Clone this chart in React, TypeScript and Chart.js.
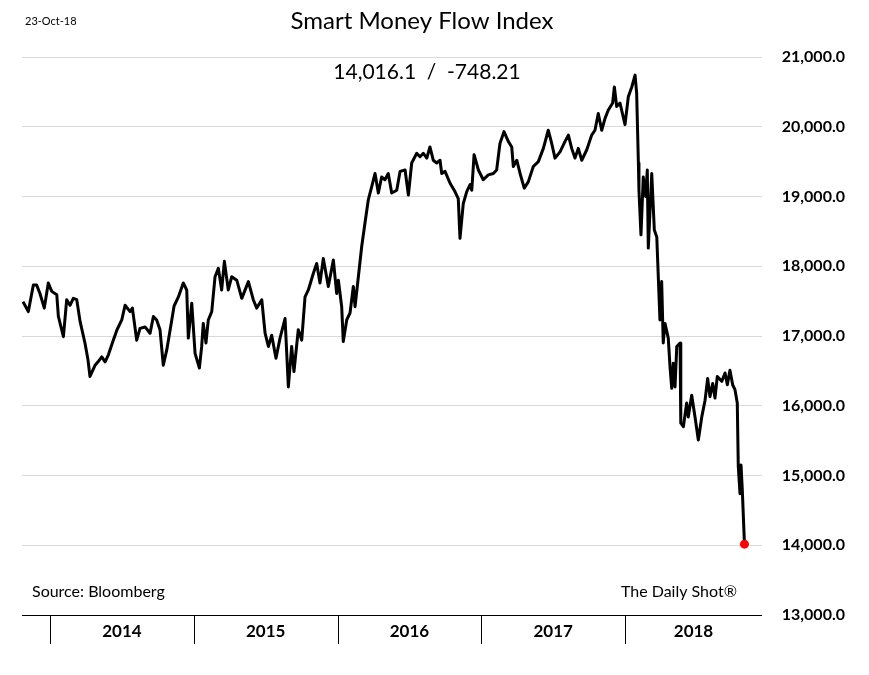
import React, { useEffect, useRef } from "react";
import { Chart, registerables } from "chart.js";

Chart.register(...registerables);

// Dates as decimal years, values of the Smart Money Flow Index
const dates: number[] = [
  2013.812, 2013.849, 2013.884, 2013.907, 2013.93, 2013.96, 2013.988, 2014.012, 2014.047, 2014.058,
  2014.093, 2014.116, 2014.139, 2014.162, 2014.186, 2014.209, 2014.243, 2014.264, 2014.278, 2014.313,
  2014.334, 2014.36, 2014.383, 2014.406, 2014.44, 2014.466, 2014.499, 2014.522, 2014.557, 2014.573,
  2014.603, 2014.626, 2014.661, 2014.696, 2014.719, 2014.742, 2014.765, 2014.788, 2014.812, 2014.847,
  2014.863, 2014.893, 2014.927, 2014.951, 2014.962, 2014.986, 2015.009, 2015.039, 2015.055, 2015.066,
  2015.085, 2015.101, 2015.125, 2015.148, 2015.171, 2015.194, 2015.213, 2015.24, 2015.264, 2015.299,
  2015.334, 2015.38, 2015.414, 2015.438, 2015.473, 2015.496, 2015.519, 2015.542, 2015.572, 2015.6,
  2015.635, 2015.658, 2015.681, 2015.697, 2015.727, 2015.751, 2015.774, 2015.797, 2015.832, 2015.855,
  2015.878, 2015.901, 2015.936, 2015.971, 2015.994,
  2016.006, 2016.029, 2016.04, 2016.064, 2016.087, 2016.11, 2016.122, 2016.145, 2016.168, 2016.191,
  2016.214, 2016.238, 2016.261, 2016.284, 2016.307, 2016.33, 2016.353, 2016.377, 2016.412, 2016.435,
  2016.47, 2016.493, 2016.516, 2016.551, 2016.574, 2016.597, 2016.621, 2016.643, 2016.666, 2016.69,
  2016.713, 2016.725, 2016.748, 2016.783, 2016.817, 2016.84, 2016.852, 2016.875, 2016.899, 2016.922,
  2016.934, 2016.95, 2016.98,
  2017.014, 2017.049, 2017.084, 2017.107, 2017.13, 2017.158, 2017.188, 2017.212, 2017.223, 2017.247,
  2017.27, 2017.299, 2017.327, 2017.362, 2017.397, 2017.432, 2017.466, 2017.49, 2017.513, 2017.548,
  2017.583, 2017.606, 2017.629, 2017.652, 2017.675, 2017.699, 2017.734, 2017.768, 2017.791, 2017.814,
  2017.838, 2017.861, 2017.884, 2017.914, 2017.926, 2017.942, 2017.965,
  2018.0, 2018.023, 2018.047, 2018.07, 2018.081, 2018.093, 2018.097, 2018.111, 2018.127, 2018.144,
  2018.155, 2018.162, 2018.186, 2018.204, 2018.221, 2018.243, 2018.255, 2018.266, 2018.278, 2018.301,
  2018.313, 2018.325, 2018.336, 2018.348, 2018.36, 2018.383, 2018.388, 2018.406, 2018.429, 2018.44,
  2018.464, 2018.487, 2018.51, 2018.534, 2018.557, 2018.575, 2018.591, 2018.61, 2018.626, 2018.642,
  2018.673, 2018.696, 2018.712, 2018.73, 2018.749, 2018.765, 2018.781, 2018.788, 2018.8, 2018.807,
  2018.816, 2018.831,
];

const values: number[] = [
  17490, 17350, 17730, 17730, 17610, 17400, 17760, 17640, 17590, 17280,
  16990, 17520, 17440, 17540, 17520, 17210, 16900, 16660, 16420, 16580,
  16630, 16700, 16630, 16730, 16940, 17090, 17230, 17440, 17350, 17400,
  16940, 17110, 17130, 17040, 17280, 17230, 17090, 16580, 16800, 17230,
  17430, 17560, 17760, 17660, 16970, 17470, 16750, 16540, 16850, 17180,
  16900, 17230, 17350, 17850, 17970, 17660, 18070, 17660, 17850, 17800,
  17540, 17780, 17520, 17400, 17520, 17040, 16850, 17010, 16680, 16970,
  17250, 16270, 16850, 16490, 17090, 16940, 17560, 17660, 17900, 18040,
  17760, 18110, 17710, 18090, 17610,
  17800, 17420, 16920, 17230, 17330, 17710, 17420, 17850, 18280, 18620,
  18950, 19140, 19330, 19050, 19280, 19240, 19330, 19050, 19090, 19360,
  19380, 19020, 19480, 19620, 19570, 19620, 19550, 19710, 19520, 19480,
  19520, 19330, 19360, 19190, 19070, 18970, 18400, 18900, 19070, 19170,
  19090, 19600, 19380,
  19240, 19310, 19330, 19380, 19760, 19930, 19790, 19710, 19430, 19520,
  19330, 19120, 19210, 19430, 19500, 19690, 19950, 19760, 19550, 19640,
  19790, 19880, 19690, 19550, 19690, 19520, 19670, 19880, 19950, 20190,
  19950, 20120, 20240, 20340, 20570, 20290, 20340,
  20030, 20430, 20570, 20740, 20480, 19480, 19090, 18450, 19280, 19000,
  19380, 18260, 19330, 18520, 18420, 17230, 17780, 16900, 17180, 16970,
  16560, 16250, 16610, 16270, 16850, 16900, 15750, 15700, 16040, 15840,
  16150, 15840, 15510, 15840, 16080, 16390, 16130, 16320, 16110, 16420,
  16350, 16470, 16300, 16510, 16300, 16230, 16040, 15130, 14740, 15150,
  14790, 14016.1,
];

const yearTicks: number[] = [2014, 2015, 2016, 2017, 2018];
const yearLabels: string[] = ["2014", "2015", "2016", "2017", "2018"];
const xMin = 2013.805;
const xMax = 2018.953;
const yMin = 13000;
const yMax = 21000;
const yStep = 1000;

const dateStamp = "23-Oct-18";
const titleText = "Smart Money Flow Index";
const lastValueText = "14,016.1";
const changeText = "-748.21";
const sourceText = "Source: Bloomberg";
const brandText = "The Daily Shot\u00AE";

const FONT = "Lato, 'Open Sans', sans-serif";

export default function App() {
  const ref = useRef<HTMLCanvasElement>(null);

  useEffect(() => {
    document.body.style.margin = "0";
    const canvas = ref.current!;
    const lastIdx = values.length - 1;

    const decor = {
      id: "decor",
      afterDraw(chart: any) {
        const { ctx, chartArea, scales } = chart;
        const xs = scales.x;
        ctx.save();
        // bottom category separators
        ctx.strokeStyle = "#000";
        ctx.lineWidth = 1;
        const yb = Math.round(chartArea.bottom);
        yearTicks.forEach((yr) => {
          const px = Math.round(xs.getPixelForValue(yr)) + 0.5;
          ctx.beginPath();
          ctx.moveTo(px, yb);
          ctx.lineTo(px, yb + 29);
          ctx.stroke();
        });
        // year labels
        ctx.fillStyle = "#000";
        ctx.font = `bold 17px ${FONT}`;
        ctx.textAlign = "center";
        ctx.textBaseline = "middle";
        yearTicks.forEach((yr, i) => {
          const a = xs.getPixelForValue(yr);
          const nextVal = i < yearTicks.length - 1 ? yearTicks[i + 1] : xMax;
          const b = xs.getPixelForValue(nextVal);
          ctx.fillText(yearLabels[i], (a + b) / 2, chartArea.bottom + 17);
        });
        // header texts
        ctx.font = `11px ${FONT}`;
        ctx.textAlign = "left";
        ctx.fillText(dateStamp, 25, 21);
        ctx.font = `24px ${FONT}`;
        ctx.textAlign = "center";
        ctx.fillText(titleText, 422, 21);
        ctx.font = `21px ${FONT}`;
        ctx.fillText(`${lastValueText}  /  ${changeText}`, 427, 72);
        // footer texts
        ctx.font = `16px ${FONT}`;
        ctx.textAlign = "left";
        ctx.fillText(sourceText, 32, 592);
        ctx.textAlign = "right";
        ctx.fillText(brandText, 737, 592);
        ctx.restore();
      },
    };

    const chart = new Chart(canvas, {
      type: "line",
      data: {
        datasets: [
          {
            data: dates.map((d, i) => ({ x: d, y: values[i] })),
            borderColor: "#000",
            borderWidth: 3,
            tension: 0,
            pointRadius: (c: any) => (c.dataIndex === lastIdx ? 4.5 : 0),
            pointBackgroundColor: "#ff0000",
            pointBorderColor: "#ff0000",
            pointBorderWidth: 0,
            borderJoinStyle: "round",
          },
        ],
      },
      options: {
        responsive: false,
        animation: false,
        layout: { padding: { left: 22, right: 24, top: 57, bottom: 60 } },
        plugins: {
          legend: { display: false },
          tooltip: { enabled: false },
          title: { display: false },
        },
        scales: {
          x: {
            type: "linear",
            min: xMin,
            max: xMax,
            display: false,
          },
          y: {
            position: "right",
            min: yMin,
            max: yMax,
            border: { display: false },
            grid: {
              drawTicks: false,
              color: (c: any) => (c.tick && c.tick.value === yMin ? "#000" : "#d9d9d9"),
              lineWidth: 1,
            },
            ticks: {
              stepSize: yStep,
              crossAlign: "far",
              color: "#000",
              font: { family: FONT, size: 16, weight: "bold" },
              callback: (v: any) =>
                Number(v).toLocaleString("en-US", {
                  minimumFractionDigits: 1,
                  maximumFractionDigits: 1,
                }),
            },
            afterFit: (scale: any) => {
              scale.width = 83;
            },
          },
        },
      } as any,
      plugins: [decor],
    });

    return () => chart.destroy();
  }, []);

  return (
    <div style={{ width: 869, height: 675, background: "#fff" }}>
      <canvas ref={ref} width={869} height={675} style={{ display: "block" }} />
    </div>
  );
}
